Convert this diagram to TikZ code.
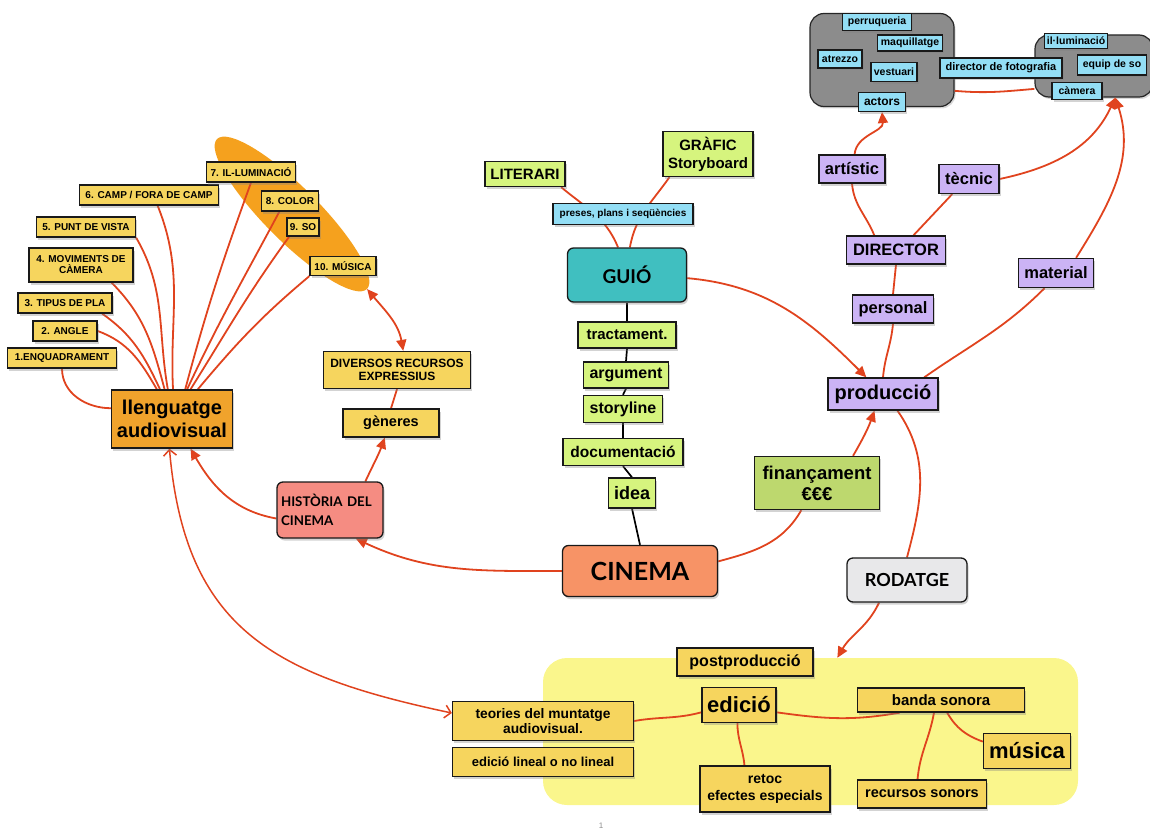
\documentclass[tikz,border=0pt]{standalone}
\usepackage{fontspec}
\setmainfont{Liberation Sans}
\newfontfamily\latof{Lato}
\usetikzlibrary{shapes.geometric,arrows.meta,shadows}
\definecolor{cyel}{HTML}{F6D55E}
\definecolor{corange}{HTML}{F0A32C}
\definecolor{cell}{HTML}{F5A11E}
\definecolor{cgreen}{HTML}{D6F47E}
\definecolor{cfin}{HTML}{BDD86E}
\definecolor{cblue}{HTML}{93DEF5}
\definecolor{clav}{HTML}{CBB3F5}
\definecolor{cteal}{HTML}{40BFC0}
\definecolor{ccin}{HTML}{F79366}
\definecolor{chis}{HTML}{F58C82}
\definecolor{crod}{HTML}{E8E8EA}
\definecolor{cgray}{HTML}{8C8C8C}
\definecolor{creg}{HTML}{FAF68C}
\definecolor{cred}{HTML}{E0431E}
\pgfdeclarelayer{back}
\pgfdeclarelayer{bg}
\pgfsetlayers{back,bg,main}
\begin{document}
\begin{tikzpicture}[x=1pt,y=-1pt,
  bx/.style={draw=black!90, line width=1.3pt, inner sep=2pt, align=center,
    drop shadow={shadow xshift=1.5pt,shadow yshift=-2.5pt,opacity=.35}},
  sz/.style 2 args={minimum width=#1pt,minimum height=#2pt},
  bsz/.style 2 args={font=\bfseries\fontsize{#1}{#2}\selectfont},
  lsz/.style 2 args={font=\latof\bfseries\fontsize{#1}{#2}\selectfont},
  ylab/.style={bx,fill=cyel},
  glab/.style={bx,fill=cgreen},
  blab/.style={bx,fill=cblue,line width=1.1pt},
  vlab/.style={bx,fill=clav},
  rbox/.style={bx,rounded corners=6pt},
  link/.style={draw=cred, line width=1.8pt},
  arr/.style={link,-{Triangle[length=11pt,width=10pt]}},
  darr/.style={link,{Triangle[length=11pt,width=10pt]}-{Triangle[length=11pt,width=10pt]}},
  oarr/.style={link,line width=1.5pt,{Straight Barb[length=6pt,width=13pt]}-{Straight Barb[length=6pt,width=13pt]}},
  chain/.style={draw=black, line width=1.7pt},
  grp/.style={draw=black!85, line width=1.2pt, fill=cgray, rounded corners=14pt,
    drop shadow={shadow xshift=1.5pt,shadow yshift=-2pt,opacity=.3}}
]
\useasboundingbox (0,0) rectangle (1150,832);

% ---------- background regions ----------
\begin{pgfonlayer}{back}
\node[fill=creg, rounded corners=24pt, sz={535}{147}] (reg) at (810.5,731.5) {};
\node[grp, sz={144}{93}] (grp1) at (882,60) {};
\node[grp, sz={118}{62}] (grp2) at (1094,66) {};
\node[ellipse, fill=cell, minimum width=212pt, minimum height=54pt, rotate=-45] (ell) at (292,214) {};
\end{pgfonlayer}

% ---------- top-left cluster ----------
\node[ylab, sz={109}{20}, bsz={10}{11}] (enq) at (62,358) {1.ENQUADRAMENT};
\node[ylab, sz={64}{20}, bsz={10}{11}] (ang) at (65,331) {2. ANGLE};
\node[ylab, sz={94}{20}, bsz={10}{11}] (tip) at (65,303) {3. TIPUS DE PLA};
\node[ylab, sz={104}{34}, bsz={10}{11}] (mov) at (81,265) {4. MOVIMENTS DE\\CÀMERA};
\node[ylab, sz={99}{20}, bsz={10}{11}] (pun) at (86,227) {5. PUNT DE VISTA};
\node[ylab, sz={139}{20}, bsz={10}{11}] (cam) at (149,195) {6. CAMP / FORA DE CAMP};
\node[ylab, sz={89}{20}, bsz={10}{11}] (ilu) at (251,172) {7. IL-LUMINACIÓ};
\node[ylab, sz={57}{20}, bsz={10}{11}] (col) at (290,201) {8. COLOR};
\node[ylab, sz={32}{18}, bsz={10}{11}] (so) at (303,227) {9. SO};
\node[ylab, sz={66}{19}, bsz={10}{11}] (mus10) at (343,266) {10. MÚSICA};
\node[bx, fill=corange, sz={121}{58}, bsz={20}{23}] (lleng) at (172,419) {llenguatge\\audiovisual};

\node[ylab, sz={147}{37}, bsz={12}{13.5}] (div) at (397,370) {DIVERSOS RECURSOS\\EXPRESSIUS};
\node[ylab, sz={96}{28}, bsz={14.5}{16}] (gen) at (391,423) {gèneres};
\node[rbox, fill=chis, text width=98pt, inner xsep=4pt, minimum height=56pt, align=left, lsz={13.3}{19}] (his) at (330,510) {HISTÒRIA DEL\\CINEMA};

% ---------- centre ----------
\node[rbox, fill=cteal, sz={119}{54}, lsz={19}{22}] (gui) at (627,275) {GUIÓ};
\node[glab, sz={80}{25}, bsz={15}{17}] (lit) at (525,174) {LITERARI};
\node[glab, sz={90}{45}, bsz={15}{18}] (gra) at (708,154) {GRÀFIC\\Storyboard};
\node[blab, sz={140}{21}, bsz={10}{11}] (pre) at (623,214) {preses, plans i seqüències};
\node[glab, sz={98}{26}, bsz={15}{17}] (tra) at (627,335) {tractament.};
\node[glab, sz={85}{26}, bsz={16}{18}] (arg) at (626,375) {argument};
\node[glab, sz={79}{27}, bsz={16}{18}] (sto) at (623,409) {storyline};
\node[glab, sz={120}{27}, bsz={15.5}{17}] (doc) at (623,452) {documentació};
\node[glab, sz={47}{30}, bsz={18}{20}] (ide) at (632,493) {idea};
\node[rbox, fill=ccin, sz={155}{51}, lsz={25}{28}] (cin) at (640,571) {CINEMA};
\node[bx, fill=cfin, sz={125}{53}, bsz={18.5}{21}] (fin) at (817,483) {finançament\\€€€};

% ---------- production side ----------
\node[vlab, sz={110}{32}, bsz={20}{22}] (prod) at (883,394) {producció};
\node[vlab, sz={81}{28}, bsz={16.5}{18}] (pers) at (893,309) {personal};
\node[vlab, sz={99}{28}, bsz={16.5}{18}] (dir) at (896,250) {DIRECTOR};
\node[vlab, sz={66}{28}, bsz={16.5}{18}] (art) at (852,169) {artístic};
\node[vlab, sz={60}{29}, bsz={16.5}{18}] (tec) at (969,179) {tècnic};
\node[vlab, sz={75}{29}, bsz={16.5}{18}] (mat) at (1056,273) {material};
\node[rbox, fill=crod, sz={120}{44}, lsz={18}{20}] (rod) at (907,580) {RODATGE};

% ---------- top-right groups ----------
\node[blab, sz={69}{17}, bsz={10.5}{12}] (per) at (877,22) {perruqueria};
\node[blab, sz={65}{16}, bsz={10.5}{12}] (maq) at (910,43) {maquillatge};
\node[blab, sz={44}{18}, bsz={10.5}{12}] (atr) at (840,59) {atrezzo};
\node[blab, sz={46}{19}, bsz={10.5}{12}] (ves) at (894,72) {vestuari};
\node[blab, sz={47}{19}, bsz={12}{13}] (act) at (882,102) {actors};
\node[blab, sz={122}{20}, bsz={11}{12}] (dfo) at (1001,68) {director de fotografia};
\node[blab, sz={58}{15}, bsz={10.5}{12}] (ilm) at (1076,41) {il·luminació};
\node[blab, sz={69}{20}, bsz={10.5}{12}] (equ) at (1112,65) {equip de so};
\node[blab, sz={50}{17}, bsz={10.5}{12}] (cmr) at (1077,91) {càmera};

% ---------- post-production ----------
\node[ylab, sz={136}{28}, bsz={16}{18}] (postp) at (745,662) {postproducció};
\node[ylab, sz={74}{35}, bsz={22}{24}] (edi) at (739,705) {edició};
\node[ylab, sz={181}{39}, bsz={13.8}{15}] (teo) at (543,721) {teories del muntatge\\audiovisual.};
\node[ylab, sz={181}{29}, bsz={13}{15}] (eli) at (543,762) {edició lineal o no lineal};
\node[ylab, sz={167}{24}, bsz={15}{17}] (ban) at (941,700) {banda sonora};
\node[ylab, sz={87}{35}, bsz={22}{24}] (mus) at (1027,751) {música};
\node[ylab, sz={130}{46}, bsz={14}{17}] (ret) at (765,789) {retoc\\efectes especials};
\node[ylab, sz={129}{28}, bsz={14.5}{16}] (rec) at (922,794) {recursos sonors};

\node[text=black!45, font=\fontsize{8}{9}\selectfont] (pg) at (601,826) {1};

% ---------- connectors ----------
\begin{pgfonlayer}{bg}
% language elements
\draw[link] (enq.south) to[out=-90,in=180] (lleng.170);
\draw[link] (ang.east) to[out=-20,in=120] (lleng.117);
\draw[link] (tip.-16) to[out=-35,in=115] (lleng.112);
\draw[link] (mov.-30) to[out=-45,in=105] (lleng.104);
\draw[link] (pun.south east) to[out=-60,in=100] (lleng.98);
\draw[link] (cam.-51) to[out=-68,in=93] (lleng.88);
\draw[link] (ilu.south) to[out=-110,in=75] (lleng.66);
\draw[link] (col.-135) to[out=-118,in=65] (lleng.63);
\draw[link] (so.-145) to[out=-126,in=58] (lleng.58);
\draw[link] (mus10.south west) to[out=-140,in=50] (lleng.49);
\draw[darr] (ell.east) to[out=-50,in=100] (div.72);
\draw[link] (div.south) -- (gen.north);
\draw[arr] (his.39) to[out=65,in=-110] (gen.-113);
\draw[arr] (his.-171) to[out=170,in=-60] (lleng.-58);
\draw[arr] (cin.west) to[out=180,in=-25] (his.-48);
\draw[oarr] (lleng.-95) to[out=-85,in=168,looseness=1.2] (teo.175);
% script
\draw[link] (lit.-20) to[out=-40,in=112] (gui.108);
\draw[link] (gra.-149) to[out=-125,in=80] (gui.84);
\draw[chain] (gui.south) -- (tra.north);
\draw[chain] (tra.south) -- (arg.north);
\draw[chain] (arg.south) -- (sto.north);
\draw[chain] (sto.south) -- (doc.north);
\draw[chain] (doc.south) -- (ide.north);
\draw[chain] (ide.south) -- (cin.north);
% production
\draw[arr] (gui.-3) to[out=-5,in=135] (prod.135);
\draw[link] (cin.7) to[out=15,in=-120] (fin.-120);
\draw[arr] (fin.37) to[out=60,in=-110] (prod.-117);
\draw[link] (prod.north) to[out=85,in=-95] (pers.south);
\draw[link] (pers.north) -- (dir.south);
\draw[link] (dir.146) to[out=112,in=-85] (art.south);
\draw[arr] (art.80) to[out=85,in=-85] (act.south);
\draw[link] (dir.40) -- (tec.-138);
\draw[arr] (tec.east) to[out=12,in=-115] (grp2.-56);
\draw[arr] (mat.37) to[out=58,in=-72] (grp2.-56);
\draw[link] (mat.-127) to[out=-135,in=35] (prod.22);
\draw[link] (grp1.-23) to[out=-5,in=-175] (grp2.-159);
\draw[link] (prod.-49) to[out=-55,in=75] (rod.north);
\draw[arr] (rod.-141) to[out=-115,in=60] (reg.70);
% post-production
\draw[link] (teo.east) to[out=10,in=195] (edi.-169);
\draw[link] (edi.-11) to[out=-8,in=190] (ban.-163);
\draw[link] (edi.-95) to[out=-90,in=95] (ret.131);
\draw[link] (ban.-119) to[out=-100,in=85] (rec.107);
\draw[link] (ban.-64) to[out=-60,in=160] (mus.168);
\end{pgfonlayer}
\end{tikzpicture}
\end{document}
